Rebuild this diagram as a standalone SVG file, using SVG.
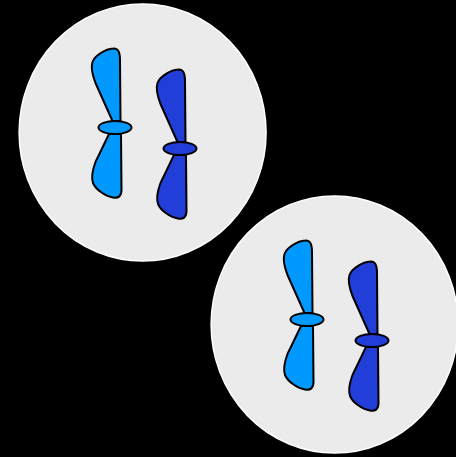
<svg xmlns="http://www.w3.org/2000/svg" width="456" height="457" viewBox="0 0 456 457">
  <defs>
    <style>
      .cell { fill: #ebebeb; stroke: #ffffff; stroke-width: 1.5; }
      .chr { stroke: #000000; stroke-width: 2; stroke-linejoin: round; }
      .light { fill: #0099ff; }
      .dark { fill: #223ed8; }
    </style>
    <g id="chromosome">
      <path d="M 120.5,121 L 120,60 C 120,52 118,48 113,48.5 C 106,49 95,55 92.5,62 C 90.5,68 92.5,75 95.5,83 L 112.5,121 Z"/>
      <path d="M 109,134 L 121,134 L 121.5,190 C 121.5,196 118.5,198.5 113,197.5 C 106,196.5 96,190 93,183 C 91,177 92.5,170 95.5,162 L 109,134 Z"/>
      <ellipse cx="115" cy="127.5" rx="16.5" ry="6.5"/>
    </g>
  </defs>
  <rect x="0" y="0" width="456" height="457" fill="#000000"/>
  <g id="cell1">
    <ellipse class="cell" cx="142.6" cy="132.5" rx="123.5" ry="128.5"/>
    <g id="cell1-chromosome-light" class="chr light"><use href="#chromosome"/></g>
    <g id="cell1-chromosome-dark" class="chr dark" transform="translate(65,21)"><use href="#chromosome"/></g>
  </g>
  <g id="cell2" transform="translate(192,192)">
    <ellipse class="cell" cx="142.6" cy="132.5" rx="123.5" ry="128.5"/>
    <g id="cell2-chromosome-light" class="chr light"><use href="#chromosome"/></g>
    <g id="cell2-chromosome-dark" class="chr dark" transform="translate(65,21)"><use href="#chromosome"/></g>
  </g>
  <g id="connectors"/>
</svg>
